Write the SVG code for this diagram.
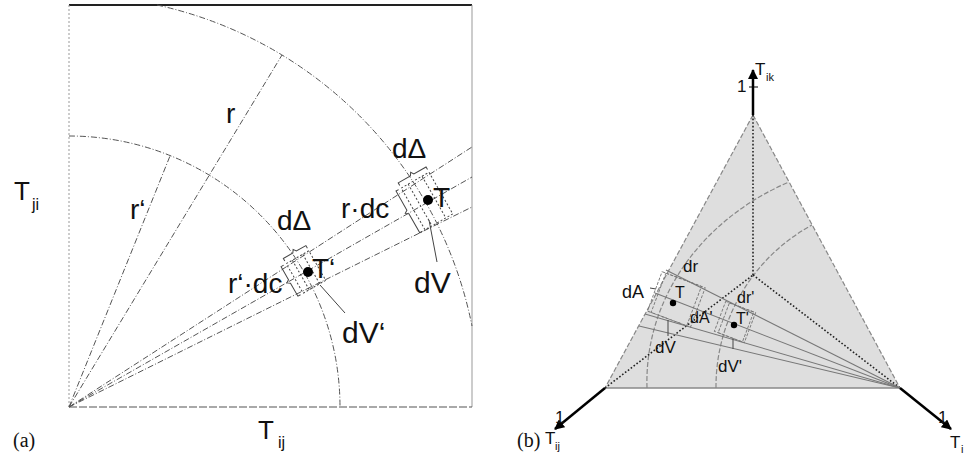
<svg xmlns="http://www.w3.org/2000/svg" width="967" height="459" viewBox="0 0 967 459">
<defs>
<style>
.lbl{font-family:"Liberation Sans",Arial,sans-serif;fill:#111}
.cap{font-family:"Liberation Serif","Times New Roman",serif;fill:#111}
.dd{fill:none;stroke:#555;stroke-width:1;stroke-dasharray:6 2 1 2}
.dot{fill:none;stroke:#444;stroke-width:1;stroke-dasharray:2 2}
.thin{fill:none;stroke:#444;stroke-width:1}
.gdash{fill:none;stroke:#888;stroke-width:1.2;stroke-dasharray:5 2}
.bdot{fill:none;stroke:#222;stroke-width:1.6;stroke-dasharray:1.6 2}
.axis{fill:none;stroke:#000;stroke-width:2.5}
.ray{fill:none;stroke:#777;stroke-width:1.1}
</style>
<marker id="ah" viewBox="0 0 10 10" refX="9" refY="5" markerWidth="4" markerHeight="4" orient="auto"><path d="M0,0 L10,5 L0,10 z" fill="#000"/></marker>
</defs>

<!-- ===== Panel (a) ===== -->
<g id="panel-a">
  <line x1="69" y1="5" x2="472" y2="5" stroke="#222" stroke-width="2"/>
  <line x1="472" y1="5" x2="472" y2="407" stroke="#999" stroke-width="1"/>
  <line x1="69" y1="5" x2="69" y2="407" stroke="#999" stroke-width="1" stroke-dasharray="2 2"/>
  <line x1="69" y1="407" x2="472" y2="407" stroke="#555" stroke-width="1.2" stroke-dasharray="8 2"/>
  <path class="dd" d="M157,5 A411,411 0 0,1 472,326"/>
  <path class="dd" d="M69,136 A271,271 0 0,1 340,407"/>
</g>
<g id="connectors-a">
  <line class="dd" x1="69" y1="407" x2="282" y2="55"/>
  <line class="dd" x1="69" y1="407" x2="170" y2="156"/>
  <line class="dd" x1="69" y1="407" x2="472" y2="147"/>
  <line class="dd" x1="69" y1="407" x2="472" y2="177"/>
  <line class="dd" x1="69" y1="407" x2="472" y2="207"/>
  <line class="thin" x1="429" y1="220" x2="437" y2="262"/>
  <line class="thin" x1="320" y1="285" x2="345" y2="313"/>
</g>
<g id="elem-T">
  <g transform="translate(427,201) rotate(-29.7)">
    <rect class="dot" x="-16" y="-24" width="32" height="48"/>
    <line class="dot" x1="-8" y1="-24" x2="-8" y2="24"/>
    <line class="dot" x1="8" y1="-24" x2="8" y2="24"/>
    <path class="thin" d="M-16,-27 L-16,-30 L-2,-30 L0,-33 L2,-30 L16,-30 L16,-27"/>
    <path class="thin" d="M-19,-24 L-22,-24 L-22,-2 L-25,0 L-22,2 L-22,24 L-19,24"/>
  </g>
  <circle cx="428" cy="200" r="5" fill="#000"/>
</g>
<g id="elem-Tp">
  <g transform="translate(306,272) rotate(-29.7)">
    <rect class="dot" x="-13" y="-17" width="26" height="34"/>
    <line class="dot" x1="-6" y1="-17" x2="-6" y2="17"/>
    <line class="dot" x1="6" y1="-17" x2="6" y2="17"/>
    <path class="thin" d="M-13,-20 L-13,-23 L-2,-23 L0,-26 L2,-23 L13,-23 L13,-20"/>
    <path class="thin" d="M-16,-17 L-19,-17 L-19,-2 L-22,0 L-19,2 L-19,17 L-16,17"/>
  </g>
  <circle cx="308" cy="272" r="5" fill="#000"/>
</g>
<g id="labels-a">
  <text class="lbl" x="226" y="123" font-size="28">r</text>
  <text class="lbl" x="130" y="219" font-size="28">r‘</text>
  <text class="lbl" x="392" y="158" font-size="28">dΔ</text>
  <text class="lbl" x="277" y="230" font-size="28">dΔ</text>
  <text class="lbl" x="341" y="218" font-size="28">r·dc</text>
  <text class="lbl" x="433" y="207" font-size="28">T</text>
  <text class="lbl" x="312" y="278" font-size="28">T‘</text>
  <text class="lbl" x="228" y="293" font-size="28">r‘·dc</text>
  <text class="lbl" x="414" y="293" font-size="30">dV</text>
  <text class="lbl" x="342" y="343" font-size="30">dV‘</text>
  <text class="lbl" x="14" y="200" font-size="26">T</text>
  <text class="lbl" x="32" y="210" font-size="16">ji</text>
  <text class="lbl" x="258" y="439" font-size="26">T</text>
  <text class="lbl" x="278" y="448" font-size="16">ij</text>
  <text class="cap" x="13" y="447" font-size="20">(a)</text>
</g>

<!-- ===== Panel (b) ===== -->
<g id="panel-b">
  <polygon points="753,115 605,388 900,388" fill="#dedede" stroke="none"/>
  <line class="gdash" x1="753" y1="115" x2="605" y2="388"/>
  <line class="gdash" x1="753" y1="115" x2="900" y2="388"/>
  <line x1="605" y1="388" x2="900" y2="388" stroke="#888" stroke-width="1.4"/>
  <path class="gdash" d="M647,388 A252,222 0 0,1 789,182"/>
  <path class="gdash" d="M716,388 A184,184 0 0,1 812,225"/>
</g>
<g id="connectors-b">
  <line class="bdot" x1="753" y1="115" x2="753" y2="275"/>
  <line class="bdot" x1="605" y1="388" x2="753" y2="275"/>
  <line class="bdot" x1="753" y1="275" x2="900" y2="388"/>
  <line class="ray" x1="900" y1="388" x2="666" y2="270"/>
  <line class="ray" x1="900" y1="388" x2="655" y2="293"/>
  <line class="ray" x1="900" y1="388" x2="645" y2="314"/>
  <line class="ray" x1="900" y1="388" x2="639" y2="326"/>
  <line class="axis" x1="753" y1="115" x2="753" y2="70" marker-end="url(#ah)"/>
  <line class="axis" x1="605" y1="388" x2="555" y2="429" marker-end="url(#ah)"/>
  <line class="axis" x1="900" y1="388" x2="951" y2="429" marker-end="url(#ah)"/>
  <line x1="749" y1="87" x2="758" y2="87" stroke="#000" stroke-width="1"/>
  <line class="thin" x1="650" y1="288" x2="656" y2="289"/>
  <line class="thin" x1="668" y1="320" x2="668" y2="336"/>
  <line class="thin" x1="733" y1="338" x2="733" y2="349"/>
</g>
<g id="elem-b-T">
  <g transform="translate(675,300) rotate(20.5)">
    <rect fill="none" stroke="#777" stroke-width="0.9" stroke-dasharray="3 1.5" x="-22" y="-22" width="46" height="42"/>
    <rect fill="none" stroke="#777" stroke-width="0.9" stroke-dasharray="3 1.5" x="-18" y="-22" width="38" height="42"/>
  </g>
  <circle cx="673" cy="303" r="3.2" fill="#000"/>
</g>
<g id="elem-b-Tp">
  <g transform="translate(735,322) rotate(20.8)">
    <rect fill="none" stroke="#777" stroke-width="0.9" stroke-dasharray="3 1.5" x="-16" y="-16" width="32" height="32"/>
    <rect fill="none" stroke="#777" stroke-width="0.9" stroke-dasharray="3 1.5" x="-12" y="-16" width="26" height="32"/>
  </g>
  <circle cx="734" cy="325" r="3.2" fill="#000"/>
</g>
<g id="labels-b">
  <text class="lbl" x="737" y="92" font-size="17">1</text>
  <text class="lbl" x="755" y="75" font-size="17">T</text>
  <text class="lbl" x="766" y="81" font-size="11">ik</text>
  <text class="lbl" x="555" y="423" font-size="17">1</text>
  <text class="lbl" x="938" y="423" font-size="17">1</text>
  <text class="lbl" x="545" y="444" font-size="17">T</text>
  <text class="lbl" x="555" y="450" font-size="11">ij</text>
  <text class="lbl" x="950" y="448" font-size="17">T</text>
  <text class="lbl" x="961" y="453" font-size="11">i</text>
  <text class="lbl" x="675" y="298" font-size="16">T</text>
  <text class="lbl" x="622" y="298" font-size="18">dA</text>
  <text class="lbl" x="683" y="272" font-size="17">dr</text>
  <text class="lbl" x="655" y="353" font-size="17">dV</text>
  <text class="lbl" x="690" y="323" font-size="16">dA'</text>
  <text class="lbl" x="736" y="324" font-size="16">T'</text>
  <text class="lbl" x="737" y="303" font-size="16">dr'</text>
  <text class="lbl" x="718" y="372" font-size="17">dV'</text>
  <text class="cap" x="517" y="447" font-size="20">(b)</text>
</g>
</svg>
